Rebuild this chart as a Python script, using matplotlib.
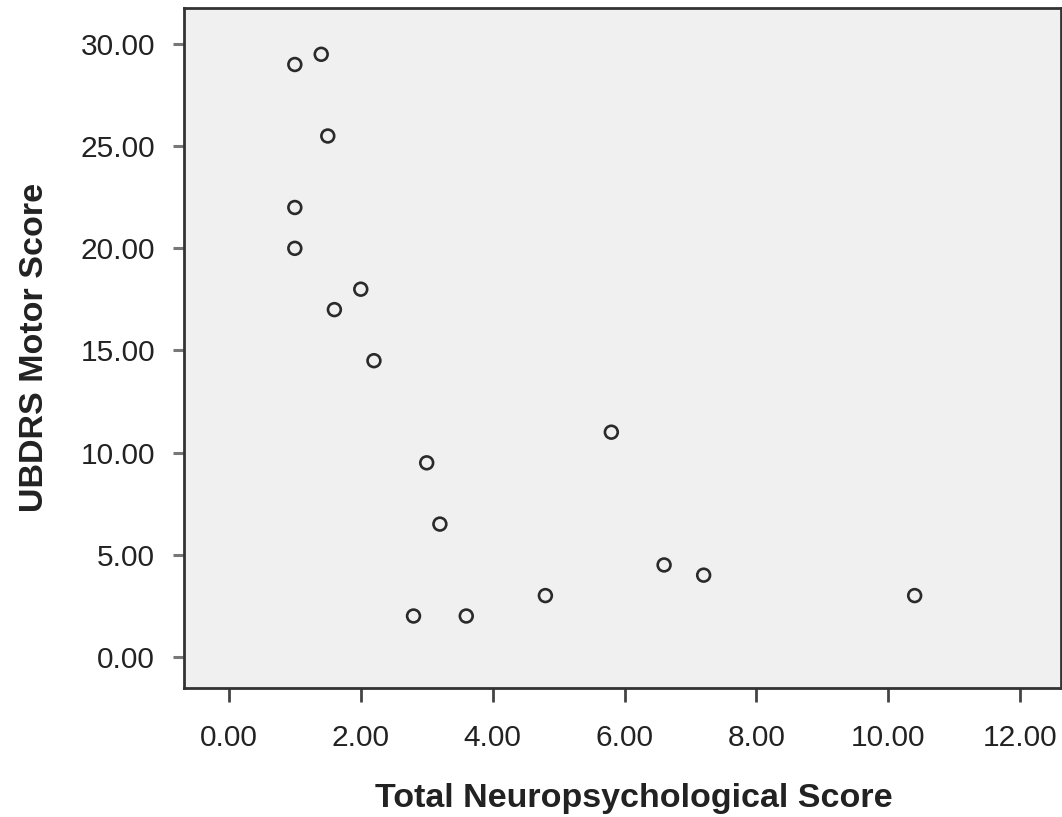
import matplotlib
matplotlib.use("Agg")
import matplotlib.pyplot as plt

# Total neuropsychological score vs. UBDRS motor score, one point per subject
neuro_score = [1.0, 1.4, 1.5, 1.0, 1.0, 2.0, 1.6, 2.2, 5.8, 3.0, 3.2, 6.6, 7.2, 4.8, 10.4, 2.8, 3.6]
motor_score = [29.0, 29.5, 25.5, 22.0, 20.0, 18.0, 17.0, 14.5, 11.0, 9.5, 6.5, 4.5, 4.0, 3.0, 3.0, 2.0, 2.0]

x_ticks = [0, 2, 4, 6, 8, 10, 12]
y_ticks = [0, 5, 10, 15, 20, 25, 30]

plt.rcParams["font.family"] = ["Liberation Sans", "DejaVu Sans"]

fig = plt.figure(figsize=(10.62, 8.17), dpi=100)
ax = fig.add_axes([0.1733, 0.158, 0.8258, 0.8323])
ax.set_facecolor("#f0f0f0")

ax.scatter(neuro_score, motor_score, s=85, facecolors="none",
           edgecolors="#2a2a2a", linewidths=1.9, zorder=3)

ax.set_xlim(-0.68, 12.62)
ax.set_ylim(-1.52, 31.77)
ax.set_xticks(x_ticks)
ax.set_yticks(y_ticks)
ax.set_xticklabels([f"{v:.2f}" for v in x_ticks])
ax.set_yticklabels([f"{v:.2f}" for v in y_ticks])

for side in ax.spines.values():
    side.set_color("#333333")
    side.set_linewidth(2)

ax.tick_params(axis="x", direction="out", length=10, width=2, color="#444444",
               labelsize=21.5, pad=16, labelcolor="#222222")
ax.tick_params(axis="y", direction="out", length=8, width=2.2, color="#777777",
               labelsize=21.5, pad=13, labelcolor="#222222")

ax.set_xlabel("Total Neuropsychological Score", fontsize=24.5, fontweight="bold",
              labelpad=22, color="#222222")
ax.xaxis.label.set_x(0.513)
ax.set_ylabel("UBDRS Motor Score", fontsize=24.5, fontweight="bold",
              labelpad=22, color="#222222")

fig.savefig("out.png", dpi=100)
